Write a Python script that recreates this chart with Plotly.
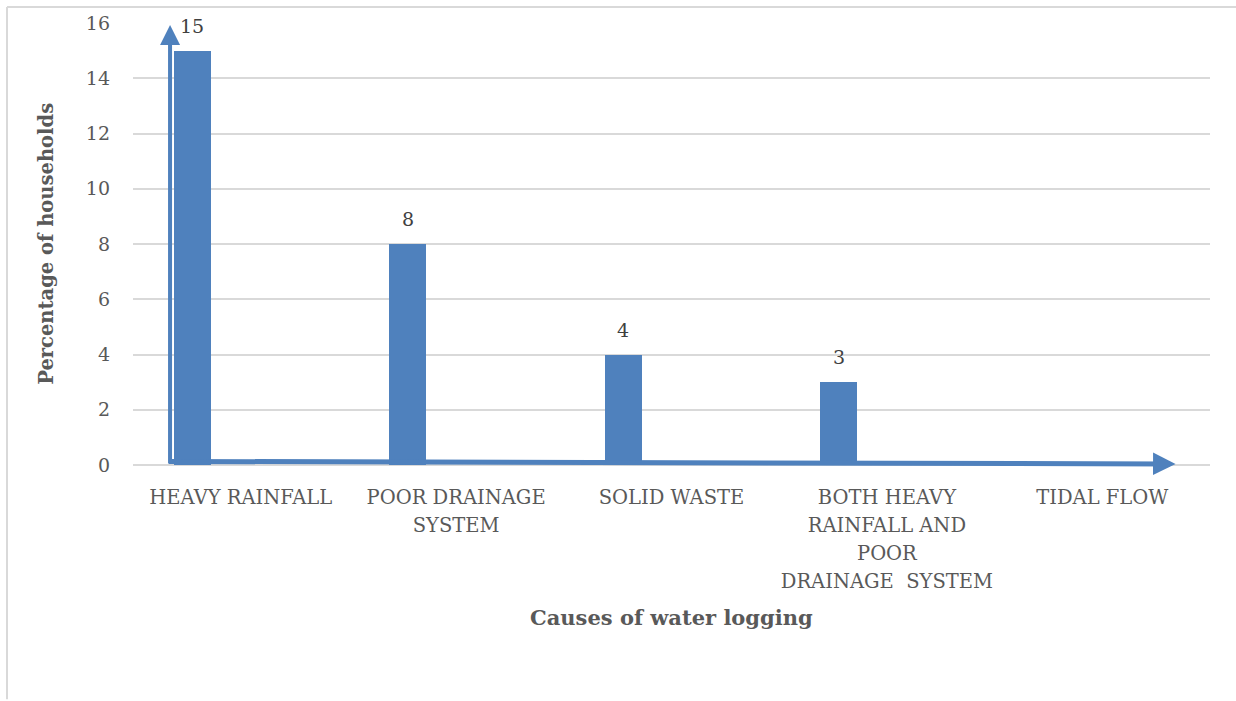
import plotly.graph_objects as go

categories = ["HEAVY RAINFALL", "POOR DRAINAGE<br>SYSTEM", "SOLID WASTE",
              "BOTH HEAVY<br>RAINFALL AND<br>POOR<br>DRAINAGE  SYSTEM", "TIDAL FLOW"]
values = [15, 8, 4, 3, 0]
y_ticks = [0, 2, 4, 6, 8, 10, 12, 14, 16]
x_title = "Causes of water logging"
y_title = "Percentage of households"

BAR_COLOR = "#4f81bd"
TEXT_COLOR = "#595959"
FONT = "DejaVu Serif"
bar_offset = -0.31
bar_width = 0.172
LABEL_SIZE = 19.5

fig = go.Figure()
fig.add_trace(go.Bar(
    x=categories, y=values,
    marker=dict(color=BAR_COLOR, line=dict(width=0)),
    offset=bar_offset, width=bar_width,
    hoverinfo="skip",
))

annotations = []
for i, v in enumerate(values):
    if v == 0:
        continue
    annotations.append(dict(
        x=i + bar_offset + bar_width / 2, y=v, xref="x", yref="y",
        text=str(v), showarrow=False, yanchor="middle", yshift=25,
        font=dict(family=FONT, size=19, color="#404040"),
    ))

# axis arrows (decoration)
annotations.append(dict(
    x=-0.328, y=15.93, ax=-0.328, ay=0, xref="x", yref="y", axref="x", ayref="y",
    text="", showarrow=True, arrowhead=2, arrowsize=1.0, arrowwidth=4,
    arrowcolor=BAR_COLOR, standoff=0, startstandoff=0,
))
annotations.append(dict(
    x=4.34, y=0.04, ax=-0.34, ay=0.13, xref="x", yref="y", axref="x", ayref="y",
    text="", showarrow=True, arrowhead=2, arrowsize=0.9, arrowwidth=5,
    arrowcolor=BAR_COLOR, standoff=0, startstandoff=0,
))

annotations.append(dict(
    x=0.5, y=-0.345, xref="paper", yref="paper", text="<b>" + x_title + "</b>",
    showarrow=False, xanchor="center", yanchor="middle",
    font=dict(family=FONT, size=21, color=TEXT_COLOR),
))
annotations.append(dict(
    x=-0.081, y=0.5, xref="paper", yref="paper", text="<b>" + y_title + "</b>",
    showarrow=False, xanchor="center", yanchor="middle", textangle=-90,
    font=dict(family=FONT, size=19.5, color=TEXT_COLOR),
))

# tick text: small glyphs, wider line spacing via the outer font size
tick_text = ['<span style="font-size:%spx">%s</span>' % (LABEL_SIZE, c.replace(
    "<br>", '</span><br><span style="font-size:%spx">' % LABEL_SIZE)) for c in categories]

fig.update_layout(
    width=1236, height=701,
    margin=dict(l=133, r=26, t=21, b=236),
    paper_bgcolor="white", plot_bgcolor="white",
    showlegend=False,
    bargap=0,
    annotations=annotations,
    font=dict(family=FONT, size=18, color=TEXT_COLOR),
    shapes=[
        dict(type="line", xref="paper", yref="paper", x0=-0.117, x1=1.03,
             y0=1.036, y1=1.036, line=dict(color="#d9d9d9", width=2)),
        dict(type="line", xref="paper", yref="paper", x0=-0.117, x1=-0.117,
             y0=1.036, y1=-0.53, line=dict(color="#d9d9d9", width=2)),
    ],
)
fig.update_xaxes(
    type="category", range=[-0.5, 4.5], showgrid=False, showline=False,
    zeroline=False, ticks="", tickangle=0, ticklabelstandoff=16,
    tickmode="array", tickvals=categories, ticktext=tick_text,
    tickfont=dict(family=FONT, size=21.7, color=TEXT_COLOR),
)
fig.update_yaxes(
    range=[0, 16], tickvals=y_ticks, showgrid=True, gridcolor="#d9d9d9",
    gridwidth=1.5, zeroline=True, zerolinecolor="#d9d9d9", zerolinewidth=1.5,
    showline=False, ticks="", ticklabelstandoff=22,
    tickfont=dict(family=FONT, size=19, color=TEXT_COLOR),
)

fig.write_html("out.html", config={"displayModeBar": False},
               post_script="document.body.style.margin='0px';")
